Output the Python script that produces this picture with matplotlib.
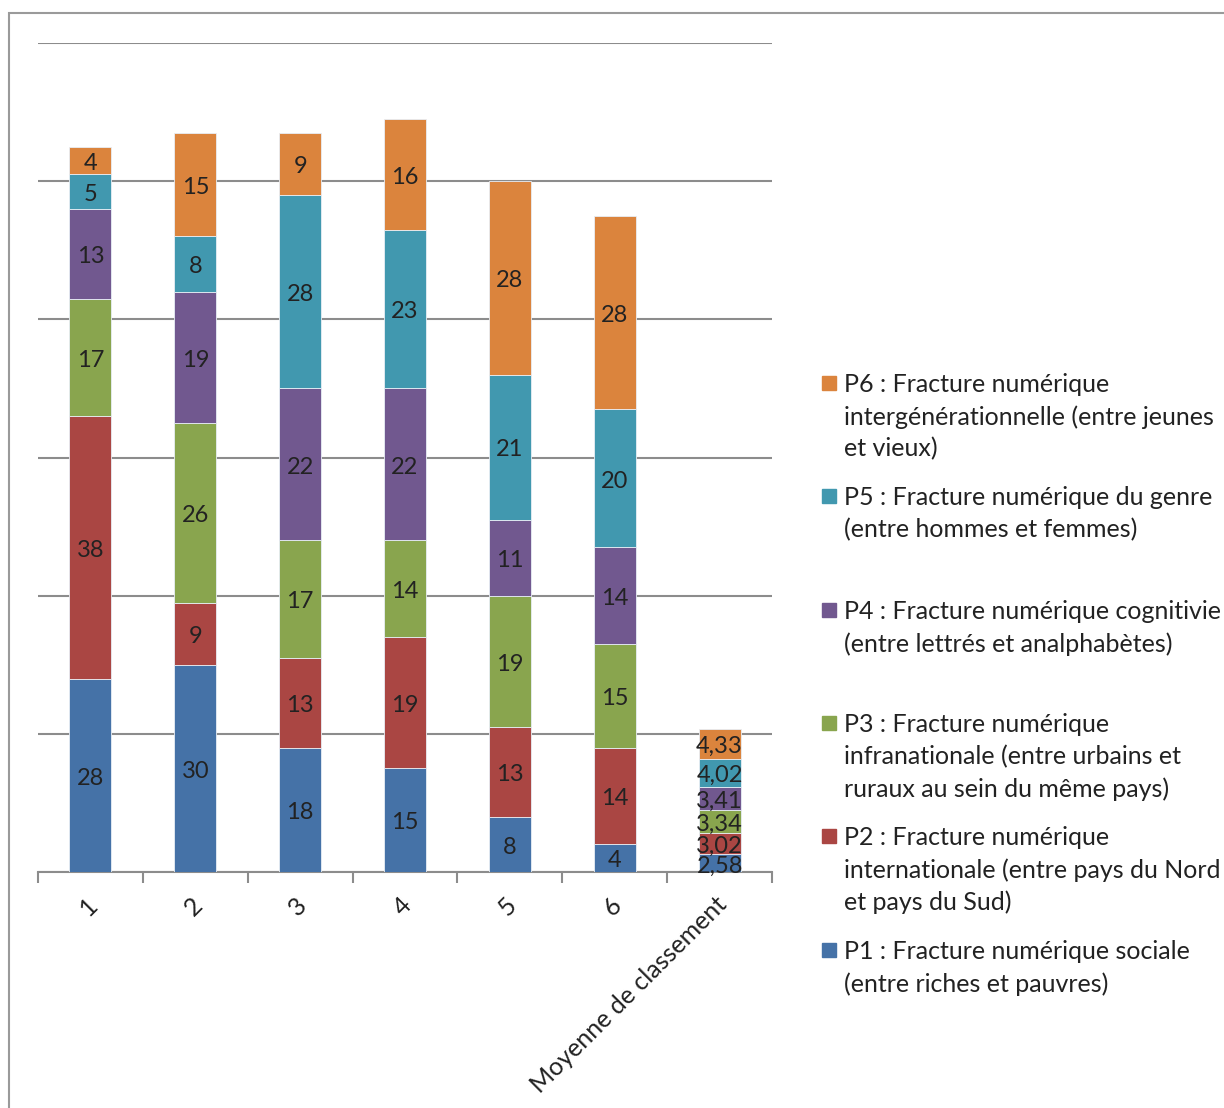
import matplotlib.pyplot as plt
import matplotlib.transforms as mtransforms
from matplotlib.patches import Rectangle

plt.rcParams['font.family'] = ['Lato', 'DejaVu Sans']

categories = ['1', '2', '3', '4', '5', '6', 'Moyenne de classement']
p1 = [28, 30, 18, 15, 8, 4, 2.58]
p2 = [38, 9, 13, 19, 13, 14, 3.02]
p3 = [17, 26, 17, 14, 19, 15, 3.34]
p4 = [13, 19, 22, 22, 11, 14, 3.41]
p5 = [5, 8, 28, 23, 21, 20, 4.02]
p6 = [4, 15, 9, 16, 28, 28, 4.33]
series = [p1, p2, p3, p4, p5, p6]
labels = [
    "P1 : Fracture numérique sociale\n(entre riches et pauvres)",
    "P2 : Fracture numérique\ninternationale (entre pays du Nord\net pays du Sud)",
    "P3 : Fracture numérique\ninfranationale (entre urbains et\nruraux au sein du même pays)",
    "P4 : Fracture numérique cognitivie\n(entre lettrés et analphabètes)",
    "P5 : Fracture numérique du genre\n(entre hommes et femmes)",
    "P6 : Fracture numérique\nintergénérationnelle (entre jeunes\net vieux)",
]
colors = ['#4572A7', '#AA4643', '#89A54E', '#71588F', '#4198AF', '#DB843D']

W, H = 1224, 1108
fig = plt.figure(figsize=(W / 100, H / 100), dpi=100)
ax = fig.add_axes([38 / W, 1 - 872 / H, (772 - 38) / W, (872 - 43) / H])

x = list(range(len(categories)))
bottom = [0] * len(categories)
for vals, col in zip(series, colors):
    ax.bar(x, vals, 0.4, bottom=bottom, color=col, edgecolor='#e8eef5', linewidth=0.6, zorder=3)
    for i, v in enumerate(vals):
        txt = f"{v:.2f}".replace('.', ',') if isinstance(v, float) else str(v)
        ax.annotate(txt, (i, bottom[i] + v / 2), xytext=(0, -2), textcoords='offset points',
                    ha='center', va='center', fontsize=17, color='#222222', zorder=4)
    bottom = [b + v for b, v in zip(bottom, vals)]

ax.set_xlim(-0.5, len(categories) - 0.5)
ax.set_ylim(0, 120)
ax.set_yticks(range(0, 121, 20))
ax.yaxis.grid(True, color='#8c8c8c', linewidth=1.5, zorder=0)
ax.tick_params(axis='y', left=False, labelleft=False)
for s in ['left', 'right', 'top']:
    ax.spines[s].set_visible(False)
ax.spines['bottom'].set_color('#8c8c8c')
ax.spines['bottom'].set_linewidth(1.5)

ax.set_xticks([i - 0.5 for i in range(len(categories) + 1)])
ax.set_xticklabels([])
ax.tick_params(axis='x', which='major', length=8, width=1.5, color='#8c8c8c')
ax.set_xticks(x, minor=True)
ax.set_xticklabels(categories, minor=True, rotation=45, ha='right', rotation_mode='anchor',
                   fontsize=18, color='#222222')
ax.tick_params(axis='x', which='minor', length=0, pad=15)
shift = mtransforms.ScaledTranslation(-5 / 100, 0, fig.dpi_scale_trans)
for lab in ax.get_xticklabels(minor=True):
    lab.set_transform(lab.get_transform() + shift)

# legend, drawn in figure pixels (top entry is P6)
leg_y = [383, 496, 610, 723, 836, 950]
for k, yy in enumerate(leg_y):
    idx = 5 - k
    fig.patches.append(Rectangle((822 / W, 1 - (yy + 7) / H), 14 / W, 14 / H,
                                 transform=fig.transFigure, color=colors[idx]))
    fig.text(844 / W, 1 - (yy - 10) / H, labels[idx], ha='left', va='top',
             fontsize=18, color='#222222', linespacing=1.46)

# chart border
fig.patches.append(Rectangle((9 / W, -0.1), 1.2, 1 - 13 / H + 0.1, transform=fig.transFigure,
                             fill=False, edgecolor='#9a9a9a', linewidth=1.5))

fig.savefig('out.png', dpi=100)
